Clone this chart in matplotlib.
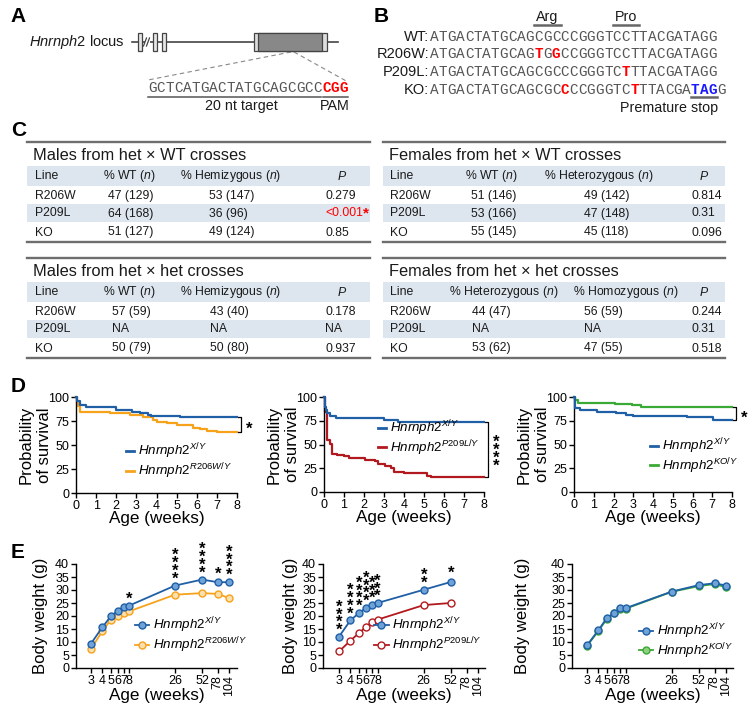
import matplotlib
matplotlib.use('Agg')
import matplotlib.pyplot as plt
from matplotlib.patches import Rectangle
from matplotlib.lines import Line2D
from matplotlib.ticker import NullLocator

plt.rcParams['font.family'] = ['Liberation Sans', 'DejaVu Sans']
plt.rcParams['mathtext.fontset'] = 'custom'
plt.rcParams['mathtext.rm'] = 'Liberation Sans'
plt.rcParams['mathtext.it'] = 'Liberation Sans:italic'
plt.rcParams['mathtext.bf'] = 'Liberation Sans:bold'
plt.rcParams['axes.linewidth'] = 1.0

# ------------------------------------------------------------------ data
gRNA_target = 'GCTCATGACTATGCAGCGCC'
gRNA_pam = 'CGG'

seq_labels = ['WT:', 'R206W:', 'P209L:', 'KO:']
seqs = ['ATGACTATGCAGCGCCCGGGTCCTTACGATAGG',
        'ATGACTATGCAGTGGCCGGGTCCTTACGATAGG',
        'ATGACTATGCAGCGCCCGGGTCTTTACGATAGG',
        'ATGACTATGCAGCGCCCCGGGTCTTTACGATAGG']
seq_red = [[], [12, 14], [22], [15, 23]]
seq_blue = [[], [], [], [30, 31, 32]]
codon_labels = ['Arg', 'Pro']
codon_start = [12, 21]

tab_titles = ['Males from het × WT crosses', 'Females from het × WT crosses',
              'Males from het × het crosses', 'Females from het × het crosses']
tab_headers = [['Line', '% WT ($n$)', '% Hemizygous ($n$)', '$P$'],
               ['Line', '% WT ($n$)', '% Heterozygous ($n$)', '$P$'],
               ['Line', '% WT ($n$)', '% Hemizygous ($n$)', '$P$'],
               ['Line', '% Heterozygous ($n$)', '% Homozygous ($n$)', '$P$']]
tab_lines = ['R206W', 'P209L', 'KO']
tab_col2 = [['47 (129)', '64 (168)', '51 (127)'],
            ['51 (146)', '53 (166)', '55 (145)'],
            ['57 (59)', 'NA', '50 (79)'],
            ['44 (47)', 'NA', '53 (62)']]
tab_col3 = [['53 (147)', '36 (96)', '49 (124)'],
            ['49 (142)', '47 (148)', '45 (118)'],
            ['43 (40)', 'NA', '50 (80)'],
            ['56 (59)', 'NA', '47 (55)']]
tab_p = [['0.279', '<0.001', '0.85'],
         ['0.814', '0.31', '0.096'],
         ['0.178', 'NA', '0.937'],
         ['0.244', '0.31', '0.518']]
tab_sig = [[False, True, False], [False] * 3, [False] * 3, [False] * 3]

# survival (Kaplan-Meier steps), weeks / percent
d1_wt_t = [0, 0.07, 0.2, 0.5, 2.0, 2.8, 3.2, 3.6, 3.75, 5.15, 6.5, 8]
d1_wt_v = [100, 95.4, 91.9, 89.1, 86.6, 84.5, 83.1, 81.3, 80.3, 79.6, 78.9, 78.9]
d1_mut_t = [0, 0.03, 0.08, 0.2, 1.7, 2.7, 3.35, 3.85, 4.0, 4.5, 5.0, 5.8, 6.15, 6.5, 7.0, 8]
d1_mut_v = [100, 94, 91, 84, 83, 81.3, 79, 76, 74.3, 72.5, 70.4, 67.6, 66.2, 64.8, 63.7, 63.7]

d2_wt_t = [0, 0.03, 0.1, 0.17, 0.3, 0.6, 3.0, 3.7, 8]
d2_wt_v = [100, 90, 86.6, 83, 79.6, 77.5, 75.5, 73.6, 73.6]
d2_mut_t = [0, 0.05, 0.17, 0.3, 0.4, 0.66, 0.98, 1.23, 2.05, 2.54, 2.7, 3.03, 3.36, 3.52, 4.02, 5.16, 5.33, 8]
d2_mut_v = [100, 83.8, 55, 51, 40.3, 38.6, 37.6, 35.9, 34.1, 32.4, 29.3, 27.2, 24.8, 21.4, 19.7, 16.9, 15.5, 15.5]

d3_wt_t = [0, 0.05, 0.3, 1.15, 2.15, 2.65, 3.0, 4.0, 5.7, 7.05, 8]
d3_wt_v = [100, 88.4, 85.9, 84.5, 83.1, 81.3, 80.3, 79.6, 78.9, 75.4, 75.4]
d3_mut_t = [0, 0.03, 0.22, 2.1, 2.95, 3.4, 8]
d3_mut_v = [100, 96.5, 93.7, 93.0, 91.2, 89.8, 89.8]

# body weight (g)
age_ticks = [3, 4, 5, 6, 7, 8, 26, 52, 78, 104]
e1_age = [3, 4, 5, 6, 7, 8, 26, 52, 78, 104]
e1_wt = [9.4, 15.6, 19.9, 22.1, 23.3, 24.0, 31.7, 34.0, 33.0, 33.0]
e1_wt_err = [0.4, 0.5, 0.4, 0.4, 0.4, 0.4, 0.6, 0.6, 1.0, 0.7]
e1_mut = [7.3, 14.1, 18.6, 20.1, 21.2, 21.8, 28.2, 28.8, 28.5, 26.9]
e1_mut_err = [0.4, 0.4, 0.4, 0.4, 0.4, 0.4, 0.5, 0.5, 0.6, 0.6]
e1_stars = [0, 0, 0, 0, 0, 1, 4, 4, 1, 4]

e2_age = [3, 4, 5, 6, 7, 8, 26, 52]
e2_wt = [12.1, 18.3, 21.2, 23.1, 24.2, 25.0, 30.1, 33.1]
e2_wt_err = [0.4, 0.5, 0.5, 0.6, 0.5, 0.5, 0.7, 1.3]
e2_mut = [6.4, 10.5, 13.5, 15.9, 17.8, 18.6, 24.2, 25.0]
e2_mut_err = [0.3, 0.4, 0.4, 0.4, 0.4, 0.4, 0.5, 0.4]
e2_stars = [4, 4, 4, 4, 3, 3, 2, 1]

e3_age = [3, 4, 5, 6, 7, 8, 26, 52, 78, 104]
e3_wt = [8.8, 14.5, 19.4, 21.1, 22.9, 23.0, 29.4, 31.9, 32.6, 31.7]
e3_wt_err = [0.4, 0.5, 0.4, 0.4, 0.4, 0.4, 0.5, 0.5, 0.6, 0.6]
e3_mut = [8.5, 14.3, 19.0, 21.0, 22.6, 22.8, 29.3, 31.5, 32.3, 31.0]
e3_mut_err = [0.4, 0.5, 0.4, 0.4, 0.4, 0.4, 0.5, 0.5, 0.6, 0.6]

# ------------------------------------------------------------------ styles
BLUE = '#1f5fa6'
BLUE_F = '#6fa3d8'
ORANGE = '#f7a21b'
ORANGE_F = '#fde0b0'
RED = '#b2191e'
GREEN = '#3aa935'
GREEN_F = '#8fd07f'
SEQ_GREY = '#555555'
TXT = '#1a1a1a'
TICK_FS = 9
LEG_FS = 9.6

W, H = 752, 713
fig = plt.figure(figsize=(W / 100, H / 100), dpi=100)
ov = fig.add_axes([0, 0, 1, 1])
ov.set_xlim(0, W)
ov.set_ylim(H, 0)
ov.axis('off')


def px_axes(l, t, r, b):
    return fig.add_axes([l / W, 1 - b / H, (r - l) / W, (b - t) / H])


# panel letters
for lab, (x, y) in zip('ABCDE', [(18, 17), (381, 17), (19, 130), (18, 387), (18, 552)]):
    ov.text(x, y, lab, fontsize=15, fontweight='bold', ha='center', va='center', color='black')

# ------------------------------------------------------------------ panel A
ov.text(29, 42, r'$\mathit{Hnrnph2}$ locus', fontsize=10.5, ha='left', va='center', color=TXT)
ov.plot([132, 338], [42, 42], color='#444', lw=1.2, zorder=1)
for x0 in [138, 153, 162]:
    ov.add_patch(Rectangle((x0, 33), 3.5, 18, facecolor='#e6e6e6', edgecolor='#444', lw=0.9, zorder=2))
ov.add_patch(Rectangle((144.5, 39), 5, 6, facecolor='white', edgecolor='none', zorder=2))
ov.plot([143.5, 146.5], [46, 38], color='#444', lw=0.9, zorder=3)
ov.plot([146.5, 149.5], [46, 38], color='#444', lw=0.9, zorder=3)
ov.add_patch(Rectangle((254, 33), 73, 18, facecolor='#dddddd', edgecolor='#444', lw=0.9, zorder=2))
ov.add_patch(Rectangle((258, 33), 64, 18, facecolor='#888888', edgecolor='#444', lw=0.9, zorder=3))
ov.plot([291, 148], [52, 80], color='#888', lw=0.8, ls=(0, (4, 3)))
ov.plot([294, 348], [52, 82], color='#888', lw=0.8, ls=(0, (4, 3)))

cw = 8.7
fs_seq = 10.4
xA = 148
for i, ch in enumerate(gRNA_target + gRNA_pam):
    pam = i >= len(gRNA_target)
    ov.text(xA + (i + 0.5) * cw, 88, ch, family='Liberation Mono', fontsize=fs_seq,
            ha='center', va='center', color='red' if pam else SEQ_GREY,
            fontweight='bold' if pam else 'normal')
ov.plot([xA, xA + len(gRNA_target) * cw - 1], [97, 97], color='#555', lw=1.1)
ov.plot([xA + len(gRNA_target) * cw + 1, xA + (len(gRNA_target) + 3) * cw], [97, 97], color='#555', lw=1.1)
ov.text(xA + len(gRNA_target) * cw / 2 + 6, 106, '20 nt target', fontsize=10.3, ha='center', va='center', color=TXT)
ov.text(xA + (len(gRNA_target) + 1.5) * cw, 106, 'PAM', fontsize=10.3, ha='center', va='center', color=TXT)

# ------------------------------------------------------------------ panel B
xB = 430
rows_y = [37, 54.5, 72, 89.5]
for lab, s, reds, blues, y in zip(seq_labels, seqs, seq_red, seq_blue, rows_y):
    ov.text(xB - 1, y, lab, fontsize=10.5, ha='right', va='center', color=TXT)
    for i, ch in enumerate(s):
        if i in reds:
            c, fw = 'red', 'bold'
        elif i in blues:
            c, fw = '#1a1aff', 'bold'
        else:
            c, fw = SEQ_GREY, 'normal'
        ov.text(xB + (i + 0.5) * cw, y, ch, family='Liberation Mono', fontsize=fs_seq,
                ha='center', va='center', color=c, fontweight=fw)
for lab, st in zip(codon_labels, codon_start):
    ov.text(xB + (st + 1.5) * cw, 17, lab, fontsize=10.3, ha='center', va='center', color=TXT)
    ov.plot([xB + st * cw, xB + (st + 3) * cw], [24.5, 24.5], color='#666', lw=1.8)
ov.plot([xB + seq_blue[3][0] * cw, xB + (seq_blue[3][-1] + 1) * cw], [97, 97], color='#666', lw=1.8)
ov.text(669, 108, 'Premature stop', fontsize=10.3, ha='center', va='center', color=TXT)

# ------------------------------------------------------------------ panel C tables
BAND = '#dde6ef'
RULE = '#6e6e6e'
tab_geom = [
    dict(x0=27, x1=370, top=142, hx=[35, 103, 180, 342], vx=[35, 108, 209, 325]),
    dict(x0=383, x1=725, top=142, hx=[390, 465, 544, 704], vx=[390, 471, 584, 691]),
    dict(x0=27, x1=370, top=258, hx=[35, 103, 180, 342], vx=[35, 112, 210, 325]),
    dict(x0=383, x1=725, top=258, hx=[390, 449, 573, 704], vx=[390, 472, 584, 691]),
]
fs_tab = 8.8
for k, g in enumerate(tab_geom):
    x0, x1, top = g['x0'], g['x1'], g['top']
    ov.plot([x0, x1], [top, top], color=RULE, lw=1.7)
    ov.plot([x0, x1], [top + 100, top + 100], color=RULE, lw=1.7)
    ov.text(x0 + 6, top + 13.5, tab_titles[k], fontsize=11.8, ha='left', va='center', color=TXT)
    ov.add_patch(Rectangle((x0, top + 24), x1 - x0, 20, facecolor=BAND, edgecolor='none'))
    ov.add_patch(Rectangle((x0, top + 62), x1 - x0, 18, facecolor=BAND, edgecolor='none'))
    for j, h in enumerate(tab_headers[k]):
        ov.text(g['hx'][j], top + 34, h, fontsize=fs_tab, ha='center' if j == 3 else 'left',
                va='center', color=TXT)
    for r, y in enumerate([top + 54, top + 71.5, top + 90.5]):
        vals = [tab_lines[r], tab_col2[k][r], tab_col3[k][r], tab_p[k][r]]
        for j, v in enumerate(vals):
            col = 'red' if (j == 3 and tab_sig[k][r]) else TXT
            t = ov.text(g['vx'][j], y, v, fontsize=fs_tab, ha='left', va='center', color=col)
            if j == 3 and tab_sig[k][r]:
                ov.annotate('*', xy=(1, 0.5), xycoords=t, xytext=(0, 0), textcoords='offset points',
                            ha='left', va='center', fontsize=11, fontweight='bold', color='red')


# ------------------------------------------------------------------ panel D
def style_axes(ax):
    for s in ['top', 'right']:
        ax.spines[s].set_visible(False)
    ax.tick_params(direction='out', length=3.5, width=1, labelsize=TICK_FS, pad=1.5, colors='black')


def star_stack(ax, x, y, n, base_pt, step_pt=5.6, fs=12, centered=False):
    for k in range(n):
        off = (k - (n - 1) / 2) * step_pt if centered else base_pt + k * step_pt
        ax.annotate('*', xy=(x, y), xytext=(0, off - 6.6), textcoords='offset points',
                    ha='center', va='baseline', fontsize=fs, fontweight='bold',
                    annotation_clip=False, color='black')


d_specs = [
    dict(box=(76, 397, 237, 493), wt=(d1_wt_t, d1_wt_v), mut=(d1_mut_t, d1_mut_v), mc=ORANGE,
         lab=r'$\mathit{Hnrnph2}^{\mathit{R206W/Y}}$', leg=(0.97, 0.125), yl=-0.149, nstar=1),
    dict(box=(324, 397, 484, 492), wt=(d2_wt_t, d2_wt_v), mut=(d2_mut_t, d2_mut_v), mc=RED,
         lab=r'$\mathit{Hnrnph2}^{\mathit{P209L/Y}}$', leg=(0.975, 0.36), yl=-0.15, nstar=4),
    dict(box=(574, 397, 732, 492), wt=(d3_wt_t, d3_wt_v), mut=(d3_mut_t, d3_mut_v), mc=GREEN,
         lab=r'$\mathit{Hnrnph2}^{\mathit{KO/Y}}$', leg=(1.04, 0.17), yl=-0.152, nstar=1),
]
for sp in d_specs:
    ax = px_axes(*sp['box'])
    style_axes(ax)
    ax.step(sp['wt'][0], sp['wt'][1], where='post', color=BLUE, lw=1.6, clip_on=False, zorder=3)
    ax.step(sp['mut'][0], sp['mut'][1], where='post', color=sp['mc'], lw=1.6, clip_on=False, zorder=2)
    ax.set_xlim(0, 8)
    ax.set_ylim(0, 100)
    ax.set_xticks(range(0, 9))
    ax.set_yticks([0, 25, 50, 75, 100])
    ax.set_xlabel('Age (weeks)', fontsize=12.3)
    ax.xaxis.set_label_coords(0.5, -0.185)
    ax.set_ylabel('Probability\nof survival', fontsize=12, linespacing=1.25)
    ax.yaxis.set_label_coords(sp['yl'], 0.5)
    handles = [Line2D([], [], color=BLUE, lw=2), Line2D([], [], color=sp['mc'], lw=2)]
    ax.legend(handles, [r'$\mathit{Hnrnph2}^{\mathit{X/Y}}$', sp['lab']], loc='lower right',
              bbox_to_anchor=sp['leg'], frameon=False, fontsize=LEG_FS, handlelength=0.6,
              handletextpad=0.3, labelspacing=0.0, borderpad=0, borderaxespad=0)
    y1, y2 = sp['wt'][1][-1], sp['mut'][1][-1]
    xb = 8.22
    ax.plot([xb - 0.15, xb, xb, xb - 0.15], [y1, y1, y2, y2], color='black', lw=0.9, clip_on=False)
    star_stack(ax, 8.62, (y1 + y2) / 2, sp['nstar'], 0, centered=True)

# ------------------------------------------------------------------ panel E
e_specs = [
    dict(box=(76, 564, 237, 668), xl=(2.04, 127.7), age=e1_age, wt=e1_wt, wte=e1_wt_err,
         mut=e1_mut, mute=e1_mut_err, mc=ORANGE, mf=ORANGE_F, stars=e1_stars,
         lab=r'$\mathit{Hnrnph2}^{\mathit{R206W/Y}}$', leg=(1.06, 0.125), yl=-0.174),
    dict(box=(323, 564, 485, 668), xl=(1.99, 124), age=e2_age, wt=e2_wt, wte=e2_wt_err,
         mut=e2_mut, mute=e2_mut_err, mc=RED, mf='white', stars=e2_stars,
         lab=r'$\mathit{Hnrnph2}^{\mathit{P209L/Y}}$', leg=(0.98, 0.125), yl=-0.154),
    dict(box=(572, 564, 733, 668), xl=(2.04, 124), age=e3_age, wt=e3_wt, wte=e3_wt_err,
         mut=e3_mut, mute=e3_mut_err, mc=GREEN, mf=GREEN_F, stars=None,
         lab=r'$\mathit{Hnrnph2}^{\mathit{KO/Y}}$', leg=(1.0, 0.07), yl=-0.26),
]
for sp in e_specs:
    ax = px_axes(*sp['box'])
    style_axes(ax)
    ax.set_xscale('log')
    ax.set_xlim(*sp['xl'])
    ax.set_ylim(0, 40)
    if sp['mc'] == GREEN:
        order = [('mut', 2), ('wt', 3)]
    else:
        order = [('wt', 3), ('mut', 2)]
    for key, z in order:
        if key == 'wt':
            ax.errorbar(sp['age'], sp['wt'], yerr=sp['wte'], fmt='-o', color=BLUE, mfc=BLUE_F,
                        mec=BLUE, ms=5, lw=1.3, elinewidth=1.1, capsize=0, zorder=z, clip_on=False)
        else:
            ax.errorbar(sp['age'], sp['mut'], yerr=sp['mute'], fmt='-o', color=sp['mc'], mfc=sp['mf'],
                        mec=sp['mc'], ms=5, lw=1.3, elinewidth=1.1, capsize=0, zorder=z, clip_on=False)
    ax.set_xticks(age_ticks)
    ax.xaxis.set_minor_locator(NullLocator())
    ax.set_xticklabels([str(a) for a in age_ticks])
    for lab_, a in zip(ax.get_xticklabels(), age_ticks):
        if a >= 78:
            lab_.set_rotation(90)
            lab_.set_va('top')
    ax.set_yticks(range(0, 41, 5))
    ax.set_xlabel('Age (weeks)', fontsize=12.3)
    ax.xaxis.set_label_coords(0.5, -0.19)
    ax.set_ylabel('Body weight (g)', fontsize=12)
    ax.yaxis.set_label_coords(sp['yl'], 0.5)
    handles = [Line2D([], [], color=BLUE, lw=1.3, marker='o', ms=5, mfc=BLUE_F, mec=BLUE),
               Line2D([], [], color=sp['mc'], lw=1.3, marker='o', ms=5, mfc=sp['mf'], mec=sp['mc'])]
    ax.legend(handles, [r'$\mathit{Hnrnph2}^{\mathit{X/Y}}$', sp['lab']], loc='lower right',
              bbox_to_anchor=sp['leg'], frameon=False, fontsize=LEG_FS, handlelength=1.1,
              handletextpad=0.25, labelspacing=0.0, borderpad=0, borderaxespad=0)
    if sp['stars'] is not None:
        for a, v, e, n in zip(sp['age'], sp['wt'], sp['wte'], sp['stars']):
            if n:
                star_stack(ax, a, v + e, n, 7.0)

fig.savefig('out.png', dpi=100)
